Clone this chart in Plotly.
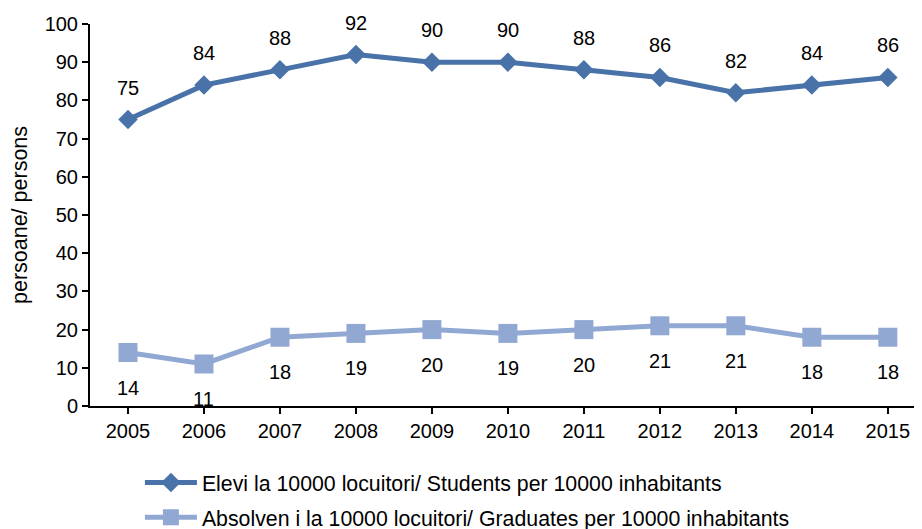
import plotly.graph_objects as go

years = ["2005", "2006", "2007", "2008", "2009", "2010", "2011", "2012", "2013", "2014", "2015"]
students = [75, 84, 88, 92, 90, 90, 88, 86, 82, 84, 86]
graduates = [14, 11, 18, 19, 20, 19, 20, 21, 21, 18, 18]
name_students = "Elevi la 10000 locuitori/ Students per 10000 inhabitants"
name_graduates = "Absolven i la 10000 locuitori/ Graduates per 10000 inhabitants"
y_title = "persoane/ persons"

dark = "#4872A8"
light = "#91A9D2"
font = "Liberation Sans, Arial, sans-serif"
fs = 20

fig = go.Figure()
fig.add_trace(go.Scatter(
    x=years, y=students, mode="lines+markers", name=name_students,
    line=dict(color=dark, width=5), legendgroup="a",
    marker=dict(symbol="diamond", size=15, color=dark),
))
fig.add_trace(go.Scatter(
    x=years, y=graduates, mode="lines+markers", name=name_graduates,
    line=dict(color=light, width=5), legendgroup="b",
    marker=dict(symbol="square", size=19, color=light),
))

annotations = []
for i, y in enumerate(students):
    annotations.append(dict(x=i, y=y, xref="x", yref="y", text=str(y), showarrow=False, yshift=32,
                            font=dict(size=fs, color="black", family=font)))
for i, y in enumerate(graduates):
    annotations.append(dict(x=i, y=y, xref="x", yref="y", text=str(y), showarrow=False, yshift=-35,
                            font=dict(size=fs, color="black", family=font)))

fig.update_layout(
    width=922, height=529,
    margin=dict(l=82, r=8, t=16, b=131, autoexpand=False),
    plot_bgcolor="white", paper_bgcolor="white",
    font=dict(family=font, size=fs, color="black"),
    annotations=annotations,
    showlegend=True,
    legend=dict(orientation="v", x=0.06, xanchor="left", y=-0.147, yanchor="top",
                font=dict(size=21.3, color="black", family=font),
                tracegroupgap=4, itemwidth=52, bgcolor="rgba(0,0,0,0)"),
    xaxis=dict(type="category", range=[-0.5, 10.45], showline=True, linecolor="black",
               linewidth=2, ticks="outside", ticklen=6, tickwidth=1.5, tickcolor="black",
               showgrid=False, zeroline=False, tickfont=dict(size=fs)),
    yaxis=dict(range=[0, 100], dtick=10, showline=True, linecolor="black", linewidth=2,
               ticks="outside", ticklen=6, tickwidth=1.5, tickcolor="black",
               showgrid=False, zeroline=False, tickfont=dict(size=fs),
               title=dict(text=y_title, font=dict(size=21.5), standoff=14)),
)

fig.write_html("out.html")
